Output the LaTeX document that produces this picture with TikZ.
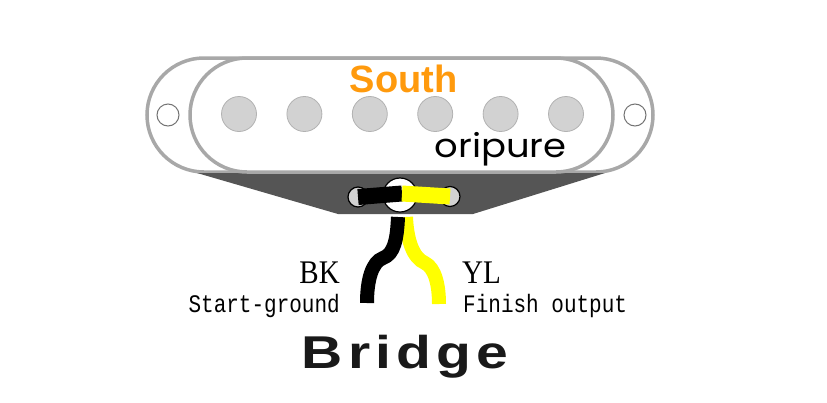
\documentclass[tikz,border=0pt]{standalone}
\usepackage{fontspec}
\usepackage{xcolor}
\usetikzlibrary{positioning}
\setmainfont{Liberation Serif}
\newfontfamily\southfont{Liberation Sans}
\newfontfamily\logofont{Poppins}
\newfontfamily\labelfont{Liberation Mono}
\newfontfamily\bridgefont[LetterSpace=9]{Liberation Sans}
\definecolor{covergray}{HTML}{A8A8A8}
\definecolor{plategray}{HTML}{555555}
\definecolor{polegray}{HTML}{D2D2D2}
\definecolor{southorange}{HTML}{FF9A0D}
\definecolor{wireyellow}{HTML}{FFFF00}
\tikzset{
    cover/.style={draw=covergray,line width=3.5pt,fill=white,rounded corners=57pt,minimum height=114pt,inner sep=0pt},
    pole/.style={circle,draw=black!30,line width=0.8pt,fill=polegray,minimum size=35pt,inner sep=0pt},
    hole/.style={circle,draw=black!55,line width=1pt,fill=white,minimum size=22pt,inner sep=0pt},
    lug/.style={circle,draw=black,line width=1.2pt,fill=polegray,minimum size=20pt,inner sep=0pt},
    wire/.style={line width=14pt},
    seriflabel/.style={font=\fontsize{33}{33}\selectfont,xscale=.88,inner sep=0pt},
    monolabel/.style={font=\labelfont\fontsize{21}{21}\selectfont,yscale=1.2,inner sep=0pt},
}
\begin{document}
\begin{tikzpicture}[x=1pt,y=-1pt,node distance=65.4pt,on grid]
\useasboundingbox (0,0) rectangle (827,402);

\node[cover,minimum width=506pt] (outer) at (400,115) {};
\fill[plategray] (197,173) -- (605,173) -- (473,214) -- (338,214) -- cycle;
\node[cover,minimum width=423pt] (inner) at (401.5,115) {};

\node[hole] (holeL) at (168,115) {};
\node[hole] (holeR) at (635,115) {};

\node[pole] (p1) at (239,114) {};
\node[pole] (p2) [right of=p1] {};
\node[pole] (p3) [right of=p2] {};
\node[pole] (p4) [right of=p3] {};
\node[pole] (p5) [right of=p4] {};
\node[pole] (p6) [right of=p5] {};

% eyelets on the plate
\node[circle,draw=black,line width=1.2pt,fill=white,minimum size=34pt,inner sep=0pt] (eye) at (400,195) {};
\node[lug] (lugL) at (358,197) {};
\node[lug] (lugR) at (450,196.5) {};
\coordinate (joint) at (402,193.5);

\draw[line width=16pt,black] (lugL.center) -- (joint);
\draw[line width=16pt,wireyellow] (joint) -- (lugR.center);

% leads
\coordinate (bkTop) at (398,217);
\coordinate (bkEnd) at (367,303);
\coordinate (ylTop) at (406,217);
\coordinate (ylEnd) at (439,304);
\draw[wire,wireyellow] (ylTop) .. controls (407,240) and (413,258) .. (425,263)
    .. controls (435,268) and (439,285) .. (ylEnd);
\draw[wire,black] (bkTop) .. controls (397,240) and (394,254) .. (383,258)
    .. controls (372,262) and (367,280) .. (bkEnd);

\node[text=southorange,font=\southfont\bfseries\fontsize{38}{38}\selectfont] (south) at (403.5,79) {South};
\node[font=\logofont\fontsize{33}{33}\selectfont,xscale=1.12] (brand) at (500.5,149) {oripure};

\node[seriflabel,anchor=base east] (bk) at (340,283) {BK};
\node[seriflabel,anchor=base west] (yl) at (462,283) {YL};
\node[monolabel,anchor=base east] (start) at (340,312) {Start-ground};
\node[monolabel,anchor=base west] (finish) at (463,312) {Finish output};
\node[font=\bridgefont\bfseries\fontsize{46}{46}\selectfont,text=black!90,xscale=1.24] (bridge) at (405,357) {Bridge};
\end{tikzpicture}
\end{document}
